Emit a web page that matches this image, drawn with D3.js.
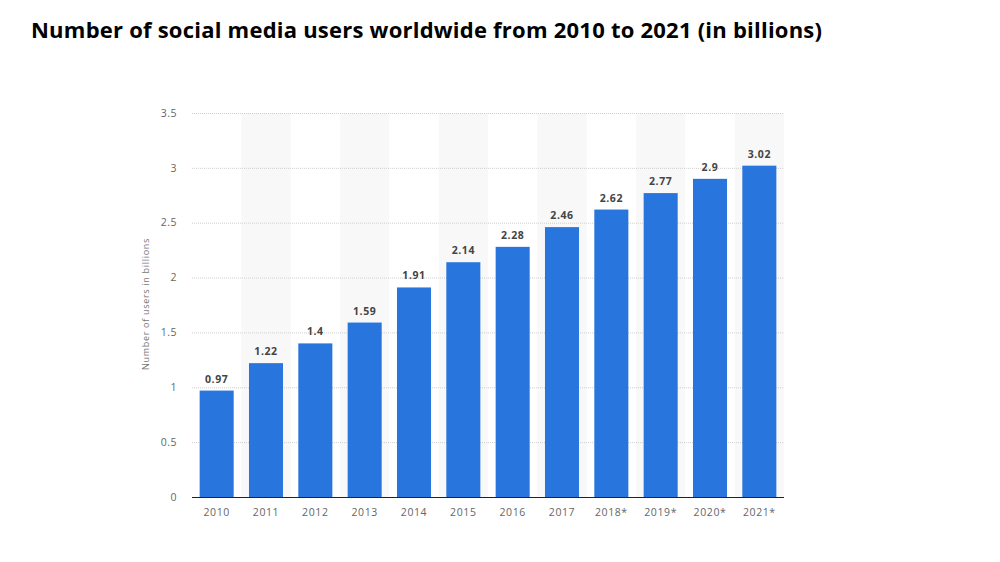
<!DOCTYPE html>
<html>
<head>
<meta charset="utf-8">
<script src="https://cdn.jsdelivr.net/npm/d3@7"></script>
<style>
  body { margin: 0; background: #fff; }
  svg { display: block; }
</style>
</head>
<body>
<svg id="chart" width="1000" height="562"></svg>
<script>
const years = ['2010', '2011', '2012', '2013', '2014', '2015', '2016', '2017', '2018*', '2019*', '2020*', '2021*'];
const users = [0.97, 1.22, 1.4, 1.59, 1.91, 2.14, 2.28, 2.46, 2.62, 2.77, 2.9, 3.02];
const yTicks = [0, 0.5, 1, 1.5, 2, 2.5, 3, 3.5];

const svg = d3.select('#chart');
const margin = { left: 192, right: 216, top: 113, bottom: 65 };
const width = 1000 - margin.left - margin.right;
const height = 562 - margin.top - margin.bottom;

svg.append('text')
  .attr('x', 31)
  .attr('y', 38)
  .attr('font-family', 'Open Sans, sans-serif')
  .attr('font-weight', 'bold')
  .attr('font-size', 22)
  .attr('textLength', 791)
  .attr('lengthAdjust', 'spacing')
  .attr('fill', '#000')
  .text('Number of social media users worldwide from 2010 to 2021 (in billions)');

const g = svg.append('g').attr('transform', `translate(${margin.left},${margin.top})`);

const x = d3.scaleBand().domain(years).range([0, width]).paddingInner(0.31).paddingOuter(0.155);
const bands = d3.scaleBand().domain(years).range([0, width]).padding(0);
const y = d3.scaleLinear().domain([0, 3.5]).range([height, 0]);

// alternating background stripes
g.selectAll('rect.stripe')
  .data(years.filter((d, i) => i % 2 === 1))
  .enter()
  .append('rect')
  .attr('class', 'stripe')
  .attr('x', d => bands(d))
  .attr('y', 0)
  .attr('width', bands.bandwidth())
  .attr('height', height)
  .attr('fill', '#f8f8f8');

// grid
g.selectAll('line.grid')
  .data(yTicks.filter(t => t > 0))
  .enter()
  .append('line')
  .attr('class', 'grid')
  .attr('x1', 0)
  .attr('x2', width)
  .attr('y1', d => y(d) + 0.5)
  .attr('y2', d => y(d) + 0.5)
  .attr('stroke', '#cfcfcf')
  .attr('stroke-dasharray', '1,1');

g.selectAll('text.ytick')
  .data(yTicks)
  .enter()
  .append('text')
  .attr('class', 'ytick')
  .attr('x', -15)
  .attr('y', d => y(d))
  .attr('dy', '0.35em')
  .attr('text-anchor', 'end')
  .attr('font-family', 'Open Sans, sans-serif')
  .attr('font-size', 10.5)
  .attr('letter-spacing', 0.5)
  .attr('fill', '#666')
  .text(d => d);

g.selectAll('rect.bar')
  .data(users)
  .enter()
  .append('rect')
  .attr('class', 'bar')
  .attr('x', (d, i) => x(years[i]))
  .attr('y', d => y(d))
  .attr('width', x.bandwidth())
  .attr('height', d => height - y(d))
  .attr('fill', '#2876dd');

g.selectAll('text.value')
  .data(users)
  .enter()
  .append('text')
  .attr('class', 'value')
  .attr('x', (d, i) => x(years[i]) + x.bandwidth() / 2)
  .attr('y', d => y(d) - 8)
  .attr('text-anchor', 'middle')
  .attr('font-family', 'Open Sans, sans-serif')
  .attr('font-weight', 'bold')
  .attr('font-size', 10.5)
  .attr('letter-spacing', 0.6)
  .attr('fill', '#444')
  .text(d => d);

// baseline
g.append('line')
  .attr('x1', 0)
  .attr('x2', width)
  .attr('y1', height + 0.5)
  .attr('y2', height + 0.5)
  .attr('stroke', '#222')
  .attr('stroke-width', 1);

g.selectAll('text.xtick')
  .data(years)
  .enter()
  .append('text')
  .attr('class', 'xtick')
  .attr('x', d => x(d) + x.bandwidth() / 2)
  .attr('y', height + 19)
  .attr('text-anchor', 'middle')
  .attr('font-family', 'Open Sans, sans-serif')
  .attr('font-size', 10.5)
  .attr('letter-spacing', 0.6)
  .attr('fill', '#666')
  .text(d => d);

svg.append('text')
  .attr('transform', `translate(149,${margin.top + height / 2 - 1}) rotate(-90)`)
  .attr('text-anchor', 'middle')
  .attr('font-family', 'Open Sans, sans-serif')
  .attr('font-size', 9)
  .attr('letter-spacing', 0.7)
  .attr('fill', '#777')
  .text('Number of users in billions');
</script>
</body>
</html>
